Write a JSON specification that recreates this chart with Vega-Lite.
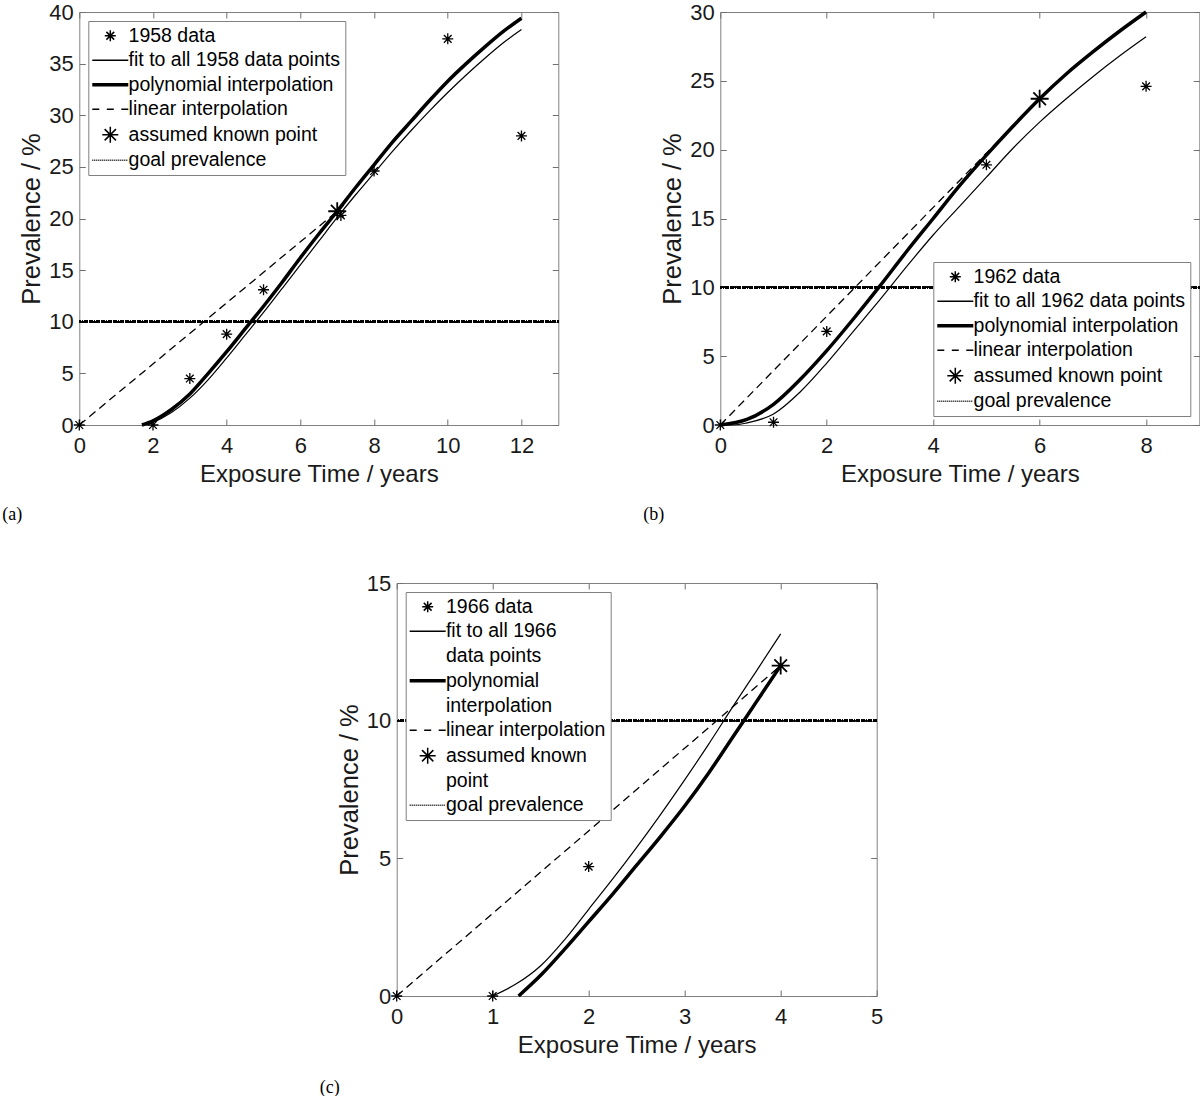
{
  "$schema": "https://vega.github.io/schema/vega-lite/v6.json",
  "padding": {"left": 1, "top": 0, "right": 0, "bottom": 0},
  "background": "white",
  "datasets": {
    "a": [
      {"s": "fit", "x": 1.8, "y": 0}, {"s": "fit", "x": 2, "y": 0.25}, {"s": "fit", "x": 2.5, "y": 1.2}, {"s": "fit", "x": 3, "y": 2.6}, {"s": "fit", "x": 3.5, "y": 4.4}, {"s": "fit", "x": 4, "y": 6.5}, {"s": "fit", "x": 4.5, "y": 8.7}, {"s": "fit", "x": 5, "y": 10.9}, {"s": "fit", "x": 5.5, "y": 13.2}, {"s": "fit", "x": 6, "y": 15.5}, {"s": "fit", "x": 6.5, "y": 17.8}, {"s": "fit", "x": 7, "y": 20.1}, {"s": "fit", "x": 7.5, "y": 22.3}, {"s": "fit", "x": 8, "y": 24.4}, {"s": "fit", "x": 8.5, "y": 26.5}, {"s": "fit", "x": 9, "y": 28.5}, {"s": "fit", "x": 9.5, "y": 30.4}, {"s": "fit", "x": 10, "y": 32.2}, {"s": "fit", "x": 10.5, "y": 33.9}, {"s": "fit", "x": 11, "y": 35.5}, {"s": "fit", "x": 11.5, "y": 37.0}, {"s": "fit", "x": 12, "y": 38.3},
      {"s": "poly", "x": 1.7, "y": 0}, {"s": "poly", "x": 2, "y": 0.4}, {"s": "poly", "x": 2.5, "y": 1.5}, {"s": "poly", "x": 3, "y": 3.0}, {"s": "poly", "x": 3.5, "y": 5.0}, {"s": "poly", "x": 4, "y": 7.1}, {"s": "poly", "x": 4.5, "y": 9.3}, {"s": "poly", "x": 5, "y": 11.5}, {"s": "poly", "x": 5.5, "y": 13.8}, {"s": "poly", "x": 6, "y": 16.2}, {"s": "poly", "x": 6.5, "y": 18.5}, {"s": "poly", "x": 7, "y": 20.7}, {"s": "poly", "x": 7.5, "y": 23.0}, {"s": "poly", "x": 8, "y": 25.2}, {"s": "poly", "x": 8.5, "y": 27.4}, {"s": "poly", "x": 9, "y": 29.4}, {"s": "poly", "x": 9.5, "y": 31.4}, {"s": "poly", "x": 10, "y": 33.3}, {"s": "poly", "x": 10.5, "y": 35.0}, {"s": "poly", "x": 11, "y": 36.6}, {"s": "poly", "x": 11.5, "y": 38.1}, {"s": "poly", "x": 12, "y": 39.4},
      {"s": "lin", "x": 0, "y": 0}, {"s": "lin", "x": 7, "y": 20.7},
      {"s": "data", "x": 0, "y": 0}, {"s": "data", "x": 2, "y": 0}, {"s": "data", "x": 3, "y": 4.5}, {"s": "data", "x": 4, "y": 8.8}, {"s": "data", "x": 5, "y": 13.1}, {"s": "data", "x": 7.1, "y": 20.3}, {"s": "data", "x": 8, "y": 24.6}, {"s": "data", "x": 10, "y": 37.4}, {"s": "data", "x": 12, "y": 28.0},
      {"s": "known", "x": 7, "y": 20.7}
    ],
    "b": [
      {"s": "fit", "x": 0, "y": 0}, {"s": "fit", "x": 0.3, "y": 0.02}, {"s": "fit", "x": 0.5, "y": 0.15}, {"s": "fit", "x": 1, "y": 0.8}, {"s": "fit", "x": 1.5, "y": 2.4}, {"s": "fit", "x": 2, "y": 4.5}, {"s": "fit", "x": 2.5, "y": 6.8}, {"s": "fit", "x": 3, "y": 9.1}, {"s": "fit", "x": 3.5, "y": 11.5}, {"s": "fit", "x": 4, "y": 13.8}, {"s": "fit", "x": 4.5, "y": 15.9}, {"s": "fit", "x": 5, "y": 18.0}, {"s": "fit", "x": 5.5, "y": 20.1}, {"s": "fit", "x": 6, "y": 22.0}, {"s": "fit", "x": 6.5, "y": 23.7}, {"s": "fit", "x": 7, "y": 25.3}, {"s": "fit", "x": 7.5, "y": 26.8}, {"s": "fit", "x": 8, "y": 28.2},
      {"s": "poly", "x": 0, "y": 0}, {"s": "poly", "x": 0.5, "y": 0.4}, {"s": "poly", "x": 1, "y": 1.5}, {"s": "poly", "x": 1.5, "y": 3.3}, {"s": "poly", "x": 2, "y": 5.4}, {"s": "poly", "x": 2.5, "y": 7.7}, {"s": "poly", "x": 3, "y": 10.1}, {"s": "poly", "x": 3.5, "y": 12.6}, {"s": "poly", "x": 4, "y": 15.0}, {"s": "poly", "x": 4.5, "y": 17.4}, {"s": "poly", "x": 5, "y": 19.6}, {"s": "poly", "x": 5.5, "y": 21.7}, {"s": "poly", "x": 6, "y": 23.7}, {"s": "poly", "x": 6.5, "y": 25.5}, {"s": "poly", "x": 7, "y": 27.1}, {"s": "poly", "x": 7.5, "y": 28.6}, {"s": "poly", "x": 8, "y": 30.0},
      {"s": "lin", "x": 0, "y": 0}, {"s": "lin", "x": 6, "y": 23.7},
      {"s": "data", "x": 0, "y": 0}, {"s": "data", "x": 1, "y": 0.2}, {"s": "data", "x": 2, "y": 6.8}, {"s": "data", "x": 5, "y": 18.9}, {"s": "data", "x": 8, "y": 24.6},
      {"s": "known", "x": 6, "y": 23.7}
    ],
    "c": [
      {"s": "fit", "x": 1, "y": 0}, {"s": "fit", "x": 1.25, "y": 0.45}, {"s": "fit", "x": 1.5, "y": 1.1}, {"s": "fit", "x": 1.75, "y": 2.05}, {"s": "fit", "x": 2, "y": 3.15}, {"s": "fit", "x": 2.25, "y": 4.25}, {"s": "fit", "x": 2.5, "y": 5.4}, {"s": "fit", "x": 2.75, "y": 6.6}, {"s": "fit", "x": 3, "y": 7.85}, {"s": "fit", "x": 3.25, "y": 9.15}, {"s": "fit", "x": 3.5, "y": 10.5}, {"s": "fit", "x": 3.75, "y": 11.82}, {"s": "fit", "x": 4, "y": 13.15},
      {"s": "poly", "x": 1.27, "y": 0}, {"s": "poly", "x": 1.5, "y": 0.75}, {"s": "poly", "x": 1.75, "y": 1.7}, {"s": "poly", "x": 2, "y": 2.7}, {"s": "poly", "x": 2.25, "y": 3.7}, {"s": "poly", "x": 2.5, "y": 4.75}, {"s": "poly", "x": 2.75, "y": 5.8}, {"s": "poly", "x": 3, "y": 6.9}, {"s": "poly", "x": 3.25, "y": 8.1}, {"s": "poly", "x": 3.5, "y": 9.4}, {"s": "poly", "x": 3.75, "y": 10.7}, {"s": "poly", "x": 4, "y": 12.0},
      {"s": "lin", "x": 0, "y": 0}, {"s": "lin", "x": 4, "y": 12},
      {"s": "data", "x": 0, "y": 0}, {"s": "data", "x": 1, "y": 0}, {"s": "data", "x": 2, "y": 4.7},
      {"s": "known", "x": 4, "y": 12}
    ]
  },
  "vconcat": [
    {
      "hconcat": [
        {
          "width": 479, "height": 413,
          "title": {"text": "(a)", "orient": "bottom", "anchor": "start", "frame": "group", "dx": -77, "offset": 20},
          "data": {"name": "a"},
          "layer": [
            {"mark": {"type": "rule", "color": "black", "strokeWidth": 1.8, "strokeDash": [1.2, 1.2]}, "encoding": {"y": {"datum": 10, "type": "quantitative", "axis": null}}},
            {"transform": [{"filter": "datum.s == 'fit'"}], "mark": {"type": "line", "color": "black", "strokeWidth": 1.2, "interpolate": "monotone"},
             "encoding": {
               "x": {"field": "x", "type": "quantitative", "scale": {"domain": [0, 13], "nice": false, "zero": false}, "axis": {"values": [0, 2, 4, 6, 8, 10, 12], "title": "Exposure Time / years"}},
               "y": {"field": "y", "type": "quantitative", "scale": {"domain": [0, 40], "nice": false, "zero": false}, "axis": {"values": [0, 5, 10, 15, 20, 25, 30, 35, 40], "title": "Prevalence / %"}}}},
            {"transform": [{"filter": "datum.s == 'poly'"}], "mark": {"type": "line", "color": "black", "strokeWidth": 3.5, "interpolate": "monotone"},
             "encoding": {
               "x": {"field": "x", "type": "quantitative", "axis": {"orient": "top", "values": [0, 2, 4, 6, 8, 10, 12], "labels": false, "title": null}},
               "y": {"field": "y", "type": "quantitative", "axis": {"orient": "right", "values": [0, 5, 10, 15, 20, 25, 30, 35, 40], "labels": false, "title": null}}}},
            {"transform": [{"filter": "datum.s == 'lin'"}], "mark": {"type": "line", "color": "black", "strokeWidth": 1.3, "strokeDash": [8, 5]},
             "encoding": {"x": {"field": "x", "type": "quantitative", "axis": null}, "y": {"field": "y", "type": "quantitative", "axis": null}}},
            {"transform": [{"filter": "datum.s == 'data'"}], "mark": {"type": "point", "shape": "M-1,0H1M0,-1V1M-0.7,-0.7L0.7,0.7M-0.7,0.7L0.7,-0.7", "size": 121, "filled": false, "color": "black", "strokeWidth": 1.3, "opacity": 1},
             "encoding": {"x": {"field": "x", "type": "quantitative", "axis": null}, "y": {"field": "y", "type": "quantitative", "axis": null}}},
            {"transform": [{"filter": "datum.s == 'known'"}], "mark": {"type": "point", "shape": "M-1,0H1M0,-1V1M-0.7,-0.7L0.7,0.7M-0.7,0.7L0.7,-0.7", "size": 324, "filled": false, "color": "black", "strokeWidth": 1.8, "opacity": 1},
             "encoding": {"x": {"field": "x", "type": "quantitative", "axis": null}, "y": {"field": "y", "type": "quantitative", "axis": null}}},
            {"data": {"values": [{"s": "1958 data"}, {"s": "fit to all 1958 data points"}, {"s": "polynomial interpolation"}, {"s": "linear interpolation"}, {"s": "assumed known point"}, {"s": "goal prevalence"}]},
             "transform": [{"filter": "false"}],
             "mark": {"type": "point", "filled": false, "color": "black", "strokeWidth": 1.2, "size": 100, "opacity": 1},
             "encoding": {"shape": {"field": "s", "type": "nominal",
               "scale": {"domain": ["1958 data", "fit to all 1958 data points", "polynomial interpolation", "linear interpolation", "assumed known point", "goal prevalence"],
                 "range": ["M-1.1,0H1.1M0,-1.1V1.1M-0.78,-0.78L0.78,0.78M-0.78,0.78L0.78,-0.78", "M-3.6,0H3.6", "M-3.6,-0.2H3.6M-3.6,0H3.6M-3.6,0.2H3.6", "M-3.6,0H-2.2M-0.7,0H0.7M2.2,0H3.6", "M-1.6,0H1.6M0,-1.6V1.6M-1.13,-1.13L1.13,1.13M-1.13,1.13L1.13,-1.13", "M-3.6,0h0.2m0.2,0h0.2m0.2,0h0.2m0.2,0h0.2m0.2,0h0.2m0.2,0h0.2m0.2,0h0.2m0.2,0h0.2m0.2,0h0.2m0.2,0h0.2m0.2,0h0.2m0.2,0h0.2m0.2,0h0.2m0.2,0h0.2m0.2,0h0.2m0.2,0h0.2m0.2,0h0.2m0.2,0h0.2"]},
               "legend": {"title": null, "orient": "top-left", "offset": 9}}}}
          ],
          "resolve": {"axis": {"x": "independent", "y": "independent"}}
        },
        {
          "width": 479, "height": 413,
          "title": {"text": "(b)", "orient": "bottom", "anchor": "start", "frame": "group", "dx": -77, "offset": 20},
          "data": {"name": "b"},
          "layer": [
            {"mark": {"type": "rule", "color": "black", "strokeWidth": 1.8, "strokeDash": [1.2, 1.2]}, "encoding": {"y": {"datum": 10, "type": "quantitative", "axis": null}}},
            {"transform": [{"filter": "datum.s == 'fit'"}], "mark": {"type": "line", "color": "black", "strokeWidth": 1.2, "interpolate": "monotone"},
             "encoding": {
               "x": {"field": "x", "type": "quantitative", "scale": {"domain": [0, 9], "nice": false, "zero": false}, "axis": {"values": [0, 2, 4, 6, 8], "title": "Exposure Time / years"}},
               "y": {"field": "y", "type": "quantitative", "scale": {"domain": [0, 30], "nice": false, "zero": false}, "axis": {"values": [0, 5, 10, 15, 20, 25, 30], "title": "Prevalence / %"}}}},
            {"transform": [{"filter": "datum.s == 'poly'"}], "mark": {"type": "line", "color": "black", "strokeWidth": 3.5, "interpolate": "monotone"},
             "encoding": {
               "x": {"field": "x", "type": "quantitative", "axis": {"orient": "top", "values": [0, 2, 4, 6, 8], "labels": false, "title": null}},
               "y": {"field": "y", "type": "quantitative", "axis": {"orient": "right", "values": [0, 5, 10, 15, 20, 25, 30], "labels": false, "title": null}}}},
            {"transform": [{"filter": "datum.s == 'lin'"}], "mark": {"type": "line", "color": "black", "strokeWidth": 1.3, "strokeDash": [8, 5]},
             "encoding": {"x": {"field": "x", "type": "quantitative", "axis": null}, "y": {"field": "y", "type": "quantitative", "axis": null}}},
            {"transform": [{"filter": "datum.s == 'data'"}], "mark": {"type": "point", "shape": "M-1,0H1M0,-1V1M-0.7,-0.7L0.7,0.7M-0.7,0.7L0.7,-0.7", "size": 121, "filled": false, "color": "black", "strokeWidth": 1.3, "opacity": 1},
             "encoding": {"x": {"field": "x", "type": "quantitative", "axis": null}, "y": {"field": "y", "type": "quantitative", "axis": null}}},
            {"transform": [{"filter": "datum.s == 'known'"}], "mark": {"type": "point", "shape": "M-1,0H1M0,-1V1M-0.7,-0.7L0.7,0.7M-0.7,0.7L0.7,-0.7", "size": 324, "filled": false, "color": "black", "strokeWidth": 1.8, "opacity": 1},
             "encoding": {"x": {"field": "x", "type": "quantitative", "axis": null}, "y": {"field": "y", "type": "quantitative", "axis": null}}},
            {"data": {"values": [{"s": "1962 data"}, {"s": "fit to all 1962 data points"}, {"s": "polynomial interpolation"}, {"s": "linear interpolation"}, {"s": "assumed known point"}, {"s": "goal prevalence"}]},
             "transform": [{"filter": "false"}],
             "mark": {"type": "point", "filled": false, "color": "black", "strokeWidth": 1.2, "size": 100, "opacity": 1},
             "encoding": {"shape": {"field": "s", "type": "nominal",
               "scale": {"domain": ["1962 data", "fit to all 1962 data points", "polynomial interpolation", "linear interpolation", "assumed known point", "goal prevalence"],
                 "range": ["M-1.1,0H1.1M0,-1.1V1.1M-0.78,-0.78L0.78,0.78M-0.78,0.78L0.78,-0.78", "M-3.6,0H3.6", "M-3.6,-0.2H3.6M-3.6,0H3.6M-3.6,0.2H3.6", "M-3.6,0H-2.2M-0.7,0H0.7M2.2,0H3.6", "M-1.6,0H1.6M0,-1.6V1.6M-1.13,-1.13L1.13,1.13M-1.13,1.13L1.13,-1.13", "M-3.6,0h0.2m0.2,0h0.2m0.2,0h0.2m0.2,0h0.2m0.2,0h0.2m0.2,0h0.2m0.2,0h0.2m0.2,0h0.2m0.2,0h0.2m0.2,0h0.2m0.2,0h0.2m0.2,0h0.2m0.2,0h0.2m0.2,0h0.2m0.2,0h0.2m0.2,0h0.2m0.2,0h0.2m0.2,0h0.2"]},
               "legend": {"title": null, "orient": "bottom-right", "offset": 9}}}}
          ],
          "resolve": {"axis": {"x": "independent", "y": "independent"}}
        }
      ],
      "spacing": 82,
      "resolve": {"scale": {"shape": "independent"}, "legend": {"shape": "independent"}}
    },
    {
      "width": 480, "height": 413,
      "title": {"text": "(c)", "orient": "bottom", "anchor": "start", "frame": "group", "dx": -77, "offset": 22},
      "data": {"name": "c"},
      "layer": [
        {"mark": {"type": "rule", "color": "black", "strokeWidth": 1.8, "strokeDash": [1.2, 1.2]}, "encoding": {"y": {"datum": 10, "type": "quantitative", "axis": null}}},
        {"transform": [{"filter": "datum.s == 'fit'"}], "mark": {"type": "line", "color": "black", "strokeWidth": 1.2, "interpolate": "monotone"},
         "encoding": {
           "x": {"field": "x", "type": "quantitative", "scale": {"domain": [0, 5], "nice": false, "zero": false}, "axis": {"values": [0, 1, 2, 3, 4, 5], "title": "Exposure Time / years"}},
           "y": {"field": "y", "type": "quantitative", "scale": {"domain": [0, 15], "nice": false, "zero": false}, "axis": {"values": [0, 5, 10, 15], "title": "Prevalence / %"}}}},
        {"transform": [{"filter": "datum.s == 'poly'"}], "mark": {"type": "line", "color": "black", "strokeWidth": 3.5, "interpolate": "monotone"},
         "encoding": {
           "x": {"field": "x", "type": "quantitative", "axis": {"orient": "top", "values": [0, 1, 2, 3, 4, 5], "labels": false, "title": null}},
           "y": {"field": "y", "type": "quantitative", "axis": {"orient": "right", "values": [0, 5, 10, 15], "labels": false, "title": null}}}},
        {"transform": [{"filter": "datum.s == 'lin'"}], "mark": {"type": "line", "color": "black", "strokeWidth": 1.3, "strokeDash": [8, 5]},
         "encoding": {"x": {"field": "x", "type": "quantitative", "axis": null}, "y": {"field": "y", "type": "quantitative", "axis": null}}},
        {"transform": [{"filter": "datum.s == 'data'"}], "mark": {"type": "point", "shape": "M-1,0H1M0,-1V1M-0.7,-0.7L0.7,0.7M-0.7,0.7L0.7,-0.7", "size": 121, "filled": false, "color": "black", "strokeWidth": 1.3, "opacity": 1},
         "encoding": {"x": {"field": "x", "type": "quantitative", "axis": null}, "y": {"field": "y", "type": "quantitative", "axis": null}}},
        {"transform": [{"filter": "datum.s == 'known'"}], "mark": {"type": "point", "shape": "M-1,0H1M0,-1V1M-0.7,-0.7L0.7,0.7M-0.7,0.7L0.7,-0.7", "size": 324, "filled": false, "color": "black", "strokeWidth": 1.8, "opacity": 1},
         "encoding": {"x": {"field": "x", "type": "quantitative", "axis": null}, "y": {"field": "y", "type": "quantitative", "axis": null}}},
        {"data": {"values": [{"s": "1966 data"}, {"s": "fit to all 1966|data points"}, {"s": "polynomial|interpolation"}, {"s": "linear interpolation"}, {"s": "assumed known|point"}, {"s": "goal prevalence"}]},
         "transform": [{"filter": "false"}],
         "mark": {"type": "point", "filled": false, "color": "black", "strokeWidth": 1.2, "size": 100, "opacity": 1},
         "encoding": {"shape": {"field": "s", "type": "nominal",
           "scale": {"domain": ["1966 data", "fit to all 1966|data points", "polynomial|interpolation", "linear interpolation", "assumed known|point", "goal prevalence"],
             "range": ["M-1.1,0H1.1M0,-1.1V1.1M-0.78,-0.78L0.78,0.78M-0.78,0.78L0.78,-0.78", "M-3.6,0H3.6", "M-3.6,-0.2H3.6M-3.6,0H3.6M-3.6,0.2H3.6", "M-3.6,0H-2.2M-0.7,0H0.7M2.2,0H3.6", "M-1.6,0H1.6M0,-1.6V1.6M-1.13,-1.13L1.13,1.13M-1.13,1.13L1.13,-1.13", "M-3.6,0h0.2m0.2,0h0.2m0.2,0h0.2m0.2,0h0.2m0.2,0h0.2m0.2,0h0.2m0.2,0h0.2m0.2,0h0.2m0.2,0h0.2m0.2,0h0.2m0.2,0h0.2m0.2,0h0.2m0.2,0h0.2m0.2,0h0.2m0.2,0h0.2m0.2,0h0.2m0.2,0h0.2m0.2,0h0.2"]},
           "legend": {"title": null, "orient": "top-left", "offset": 9, "labelExpr": "split(datum.label, '|')", "encode": {"labels": {"update": {"lineHeight": {"value": 25}}}}}}}}
      ],
      "resolve": {"axis": {"x": "independent", "y": "independent"}}
    }
  ],
  "spacing": 46,
  "center": true,
  "resolve": {"scale": {"shape": "independent"}, "legend": {"shape": "independent"}},
  "config": {
    "font": "Liberation Sans",
    "view": {"stroke": "#808080", "strokeWidth": 1},
    "style": {"guide-label": {"lineHeight": 25}},
    "axis": {
      "domain": false, "grid": false,
      "tickColor": "#707070", "tickSize": -6, "tickWidth": 1,
      "labelFont": "Liberation Sans", "labelFontSize": 22, "labelColor": "#1a1a1a", "labelFlush": false,
      "titleFont": "Liberation Sans", "titleFontWeight": "normal", "titleColor": "#1a1a1a"
    },
    "axisX": {"labelPadding": 16, "titlePadding": 6, "titleFontSize": 24},
    "axisY": {"labelPadding": 12, "titlePadding": 4, "titleFontSize": 25.5},
    "legend": {
      "padding": 5, "rowPadding": 3.5, "symbolOffset": 7.25, "labelOffset": 8.5,
      "labelFont": "Liberation Sans", "labelFontSize": 19.5, "labelColor": "black", "labelLimit": 600,
      "strokeColor": "#808080", "fillColor": "white", "symbolSize": 100
    },
    "title": {"font": "Liberation Serif", "fontSize": 18, "fontWeight": "normal", "color": "black"}
  }
}
